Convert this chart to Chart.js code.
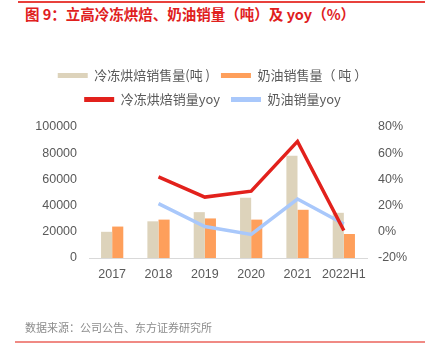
<!DOCTYPE html>
<html><head><meta charset="utf-8">
<script src="https://cdn.jsdelivr.net/npm/chart.js@4.4.1/dist/chart.umd.min.js"></script>
<style>
html,body{margin:0;padding:0;background:#fff;}
#wrap{position:relative;width:425px;height:357px;overflow:hidden;font-family:"Noto Sans CJK SC","Liberation Sans",sans-serif;}
#topline{position:absolute;left:18px;right:0;top:1px;height:2px;background:#e8413c;}
#title{position:absolute;left:25px;top:3px;font-size:14.5px;font-weight:bold;color:#e0201d;white-space:nowrap;}
#src{position:absolute;left:25px;top:319px;font-size:11px;color:#8c8c8c;white-space:nowrap;}
#botline{position:absolute;left:15px;right:0;top:341px;height:1.5px;background:#f08a84;}
#c{position:absolute;left:0;top:0;}
</style></head>
<body><div id="wrap">
<div id="topline"></div>
<div id="title">图 9：立高冷冻烘焙、奶油销量（吨）及 yoy（%）</div>
<canvas id="c" width="425" height="357"></canvas>
<div id="src">数据来源：公司公告、东方证券研究所</div>
<div id="botline"></div>
</div>
<script>
const categories = ["2017","2018","2019","2020","2021","2022H1"];
const frozenSales = [20000, 28000, 35000, 46000, 78000, 34500];
const creamSales = [24000, 29300, 30200, 29300, 36800, 18300];
const frozenYoy = [null, 42, 26.5, 31, 69, 1];
const creamYoy = [null, 21.5, 4, -2, 25, 6];
const seriesNames = ["冷冻烘焙销售量(吨 )", "奶油销售量（ 吨 ）", "冷冻烘焙销量yoy", "奶油销量yoy"];
const leftTicks = [0, 20000, 40000, 60000, 80000, 100000];
const rightTicks = [-20, 0, 20, 40, 60, 80];

const grey = "#595959";
const tickFont = {family: "Liberation Sans", size: 12.5};

new Chart(document.getElementById("c"), {
  data: {
    labels: categories,
    datasets: [
      {type: "bar", label: seriesNames[0], data: frozenSales, backgroundColor: "#ddd3bb", borderColor: "#ddd3bb", yAxisID: "y", order: 1, categoryPercentage: 0.48, barPercentage: 1},
      {type: "bar", label: seriesNames[1], data: creamSales, backgroundColor: "#fe9f5b", borderColor: "#fe9f5b", yAxisID: "y", order: 1, categoryPercentage: 0.48, barPercentage: 1},
      {type: "line", label: seriesNames[2], data: frozenYoy, borderColor: "#e2211c", backgroundColor: "#e2211c", borderWidth: 3.5, pointRadius: 0, tension: 0, yAxisID: "y1", order: 0},
      {type: "line", label: seriesNames[3], data: creamYoy, borderColor: "#a9c8fb", backgroundColor: "#a9c8fb", borderWidth: 3.5, pointRadius: 0, tension: 0, yAxisID: "y1", order: 0}
    ]
  },
  options: {
    responsive: false,
    animation: false,
    layout: {padding: {top: 58, bottom: 67, left: 0, right: 0}},
    plugins: {
      tooltip: {enabled: false},
      legend: {
        position: "top",
        sort: (a, b) => a.datasetIndex - b.datasetIndex,
        labels: {
          boxWidth: 30, boxHeight: 5, padding: 11,
          color: grey,
          font: {family: "Noto Sans CJK SC", size: 13},
          generateLabels: (chart) => chart.data.datasets.map((d, i) => ({
            text: d.label, fillStyle: d.backgroundColor, strokeStyle: d.backgroundColor,
            lineWidth: 0, hidden: false, datasetIndex: i, fontColor: grey
          }))
        }
      }
    },
    scales: {
      x: {
        grid: {display: false, drawTicks: false},
        border: {display: true, color: "#d9d9d9", width: 1},
        ticks: {color: grey, font: tickFont, padding: 9, maxRotation: 0, autoSkip: false},
        afterFit: (s) => { s.height = 32; }
      },
      y: {
        position: "left", min: 0, max: 100000,
        afterBuildTicks: (s) => { s.ticks = leftTicks.map(v => ({value: v})); },
        grid: {display: false, drawTicks: false},
        border: {display: false},
        ticks: {color: grey, font: tickFont, padding: 12, callback: (v) => String(v)},
        afterFit: (s) => { s.width = 89; }
      },
      y1: {
        position: "right", min: -20, max: 80,
        afterBuildTicks: (s) => { s.ticks = rightTicks.map(v => ({value: v})); },
        grid: {display: false, drawTicks: false},
        border: {display: false},
        ticks: {color: grey, font: tickFont, padding: 11, callback: (v) => v + "%"},
        afterFit: (s) => { s.width = 58; }
      }
    }
  },
  plugins: [{
    id: "legendGap",
    beforeInit(chart) {
      const fit = chart.legend.fit;
      chart.legend.fit = function () { fit.bind(chart.legend)(); this.height += 11; };
    }
  }]
});
</script>
</body></html>
